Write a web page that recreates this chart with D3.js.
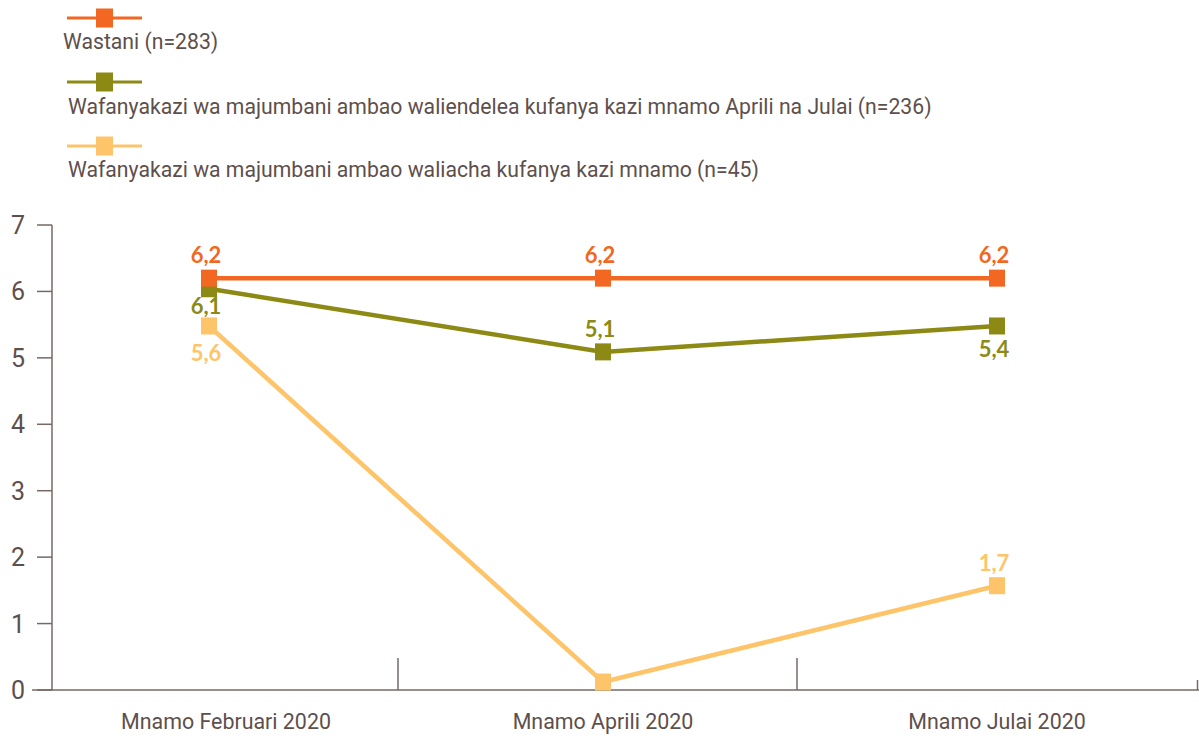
<!DOCTYPE html>
<html>
<head>
<meta charset="utf-8">
<script src="https://cdn.jsdelivr.net/npm/d3@7"></script>
<style>
  body { margin: 0; background: #fff; }
  svg { display: block; }
  .cond { font-family: Roboto, sans-serif; fill: #5e4f4c; }
  .val { font-family: Lato, sans-serif; font-weight: 700; font-size: 22px; }
</style>
</head>
<body>
<svg id="chart" width="1199" height="736"></svg>
<script>
const categories = ['Mnamo Februari 2020', 'Mnamo Aprili 2020', 'Mnamo Julai 2020'];
const seriesNames = [
  'Wastani (n=283)',
  'Wafanyakazi wa majumbani ambao waliendelea kufanya kazi mnamo Aprili na Julai (n=236)',
  'Wafanyakazi wa majumbani ambao waliacha kufanya kazi mnamo (n=45)'
];
const seriesColors = ['#f26722', '#8c8a14', '#fdc46a'];
// plotted positions as drawn in the picture
const avgValues = [6.2, 6.2, 6.2];
const stayedValues = [6.04, 5.09, 5.48];
const leftValues = [5.48, 0.12, 1.57];
// printed labels (null = not shown)
const avgLabels = ['6,2', '6,2', '6,2'];
const stayedLabels = ['6,1', '5,1', '5,4'];
const leftLabels = ['5,6', null, '1,7'];
const yTicks = [0, 1, 2, 3, 4, 5, 6, 7];

// label offsets from the marker (px, negative = above)
const labelShift = {
  avg: [-15, -15, -15],
  stayed: [25, -15, 31],
  left: [35, 0, -15]
};

const series = [
  { name: seriesNames[2], color: seriesColors[2], values: leftValues, labels: leftLabels, shift: labelShift.left },
  { name: seriesNames[1], color: seriesColors[1], values: stayedValues, labels: stayedLabels, shift: labelShift.stayed },
  { name: seriesNames[0], color: seriesColors[0], values: avgValues, labels: avgLabels, shift: labelShift.avg }
];

const svg = d3.select('#chart');
const axisColor = '#766966';

const x = d3.scaleBand().domain(categories).range([12, 1194]);
const y = d3.scaleLinear().domain([0, 7]).range([690, 225]);

// y axis
const yAxis = svg.append('g');
yAxis.append('line')
  .attr('x1', 52).attr('x2', 52)
  .attr('y1', y(7)).attr('y2', y(0))
  .attr('stroke', axisColor).attr('stroke-width', 1.5);
yAxis.selectAll('line.tick')
  .data(yTicks)
  .join('line')
  .attr('class', 'tick')
  .attr('x1', 37).attr('x2', 52)
  .attr('y1', (d) => y(d)).attr('y2', (d) => y(d))
  .attr('stroke', axisColor).attr('stroke-width', 1.5);
yAxis.selectAll('text')
  .data(yTicks)
  .join('text')
  .attr('class', 'cond')
  .attr('x', 25)
  .attr('y', (d) => y(d))
  .attr('dy', '0.36em')
  .attr('text-anchor', 'end')
  .style('font-size', '25px')
  .text((d) => d);

// x axis
const xAxis = svg.append('g');
xAxis.append('line')
  .attr('x1', 32).attr('x2', 1199)
  .attr('y1', y(0)).attr('y2', y(0))
  .attr('stroke', axisColor).attr('stroke-width', 1.5);
const bounds = categories.slice(1).map((c, i) => x(c) - 8 + i * 5);
xAxis.selectAll('line.tick')
  .data(bounds)
  .join('line')
  .attr('class', 'tick')
  .attr('x1', (d) => d).attr('x2', (d) => d)
  .attr('y1', y(0) - 32).attr('y2', y(0))
  .attr('stroke', axisColor).attr('stroke-width', 1.5);
xAxis.append('line')
  .attr('x1', 1197.5).attr('x2', 1197.5)
  .attr('y1', y(0) - 10).attr('y2', y(0))
  .attr('stroke', axisColor).attr('stroke-width', 1.5);
xAxis.selectAll('text')
  .data(categories)
  .join('text')
  .attr('class', 'cond')
  .attr('x', (d, i) => x(d) + x.bandwidth() / 2 + (i === 0 ? 17 : 0))
  .attr('y', 729)
  .attr('text-anchor', 'middle')
  .style('font-size', '21.4px')
  .text((d) => d);

// lines and markers
const cx = (i) => x(categories[i]) + x.bandwidth() / 2;
const line = d3.line().x((d, i) => cx(i)).y((d) => y(d));

series.forEach((s) => {
  const g = svg.append('g');
  g.append('path')
    .attr('d', line(s.values))
    .attr('fill', 'none')
    .attr('stroke', s.color)
    .attr('stroke-width', 4.5);
  g.selectAll('rect')
    .data(s.values)
    .join('rect')
    .attr('x', (d, i) => cx(i) - 8)
    .attr('y', (d) => y(d) - 8.5)
    .attr('width', 16)
    .attr('height', 17)
    .attr('fill', s.color);
});

// value labels
series.forEach((s) => {
  svg.append('g').selectAll('text')
    .data(s.values.map((v, i) => ({ v, i, label: s.labels[i], shift: s.shift[i] })).filter((d) => d.label))
    .join('text')
    .attr('class', 'val')
    .attr('x', (d) => cx(d.i) - 3)
    .attr('y', (d) => y(d.v) + d.shift)
    .attr('text-anchor', 'middle')
    .attr('fill', s.color)
    .text((d) => d.label);
});

// legend
const legendRows = [
  { name: seriesNames[0], color: seriesColors[0], ly: 18, ty: 49, tx: 63 },
  { name: seriesNames[1], color: seriesColors[1], ly: 82, ty: 114, tx: 68 },
  { name: seriesNames[2], color: seriesColors[2], ly: 146, ty: 177, tx: 68 }
];
const legend = svg.append('g').selectAll('g')
  .data(legendRows)
  .join('g');
legend.append('line')
  .attr('x1', 67).attr('x2', 142)
  .attr('y1', (d) => d.ly).attr('y2', (d) => d.ly)
  .attr('stroke', (d) => d.color).attr('stroke-width', 3);
legend.append('rect')
  .attr('x', 96).attr('y', (d) => d.ly - 9.5)
  .attr('width', 17).attr('height', 19)
  .attr('fill', (d) => d.color);
legend.append('text')
  .attr('class', 'cond')
  .attr('x', (d) => d.tx)
  .attr('y', (d) => d.ty)
  .style('font-size', '21.2px')
  .text((d) => d.name);
</script>
</body>
</html>
